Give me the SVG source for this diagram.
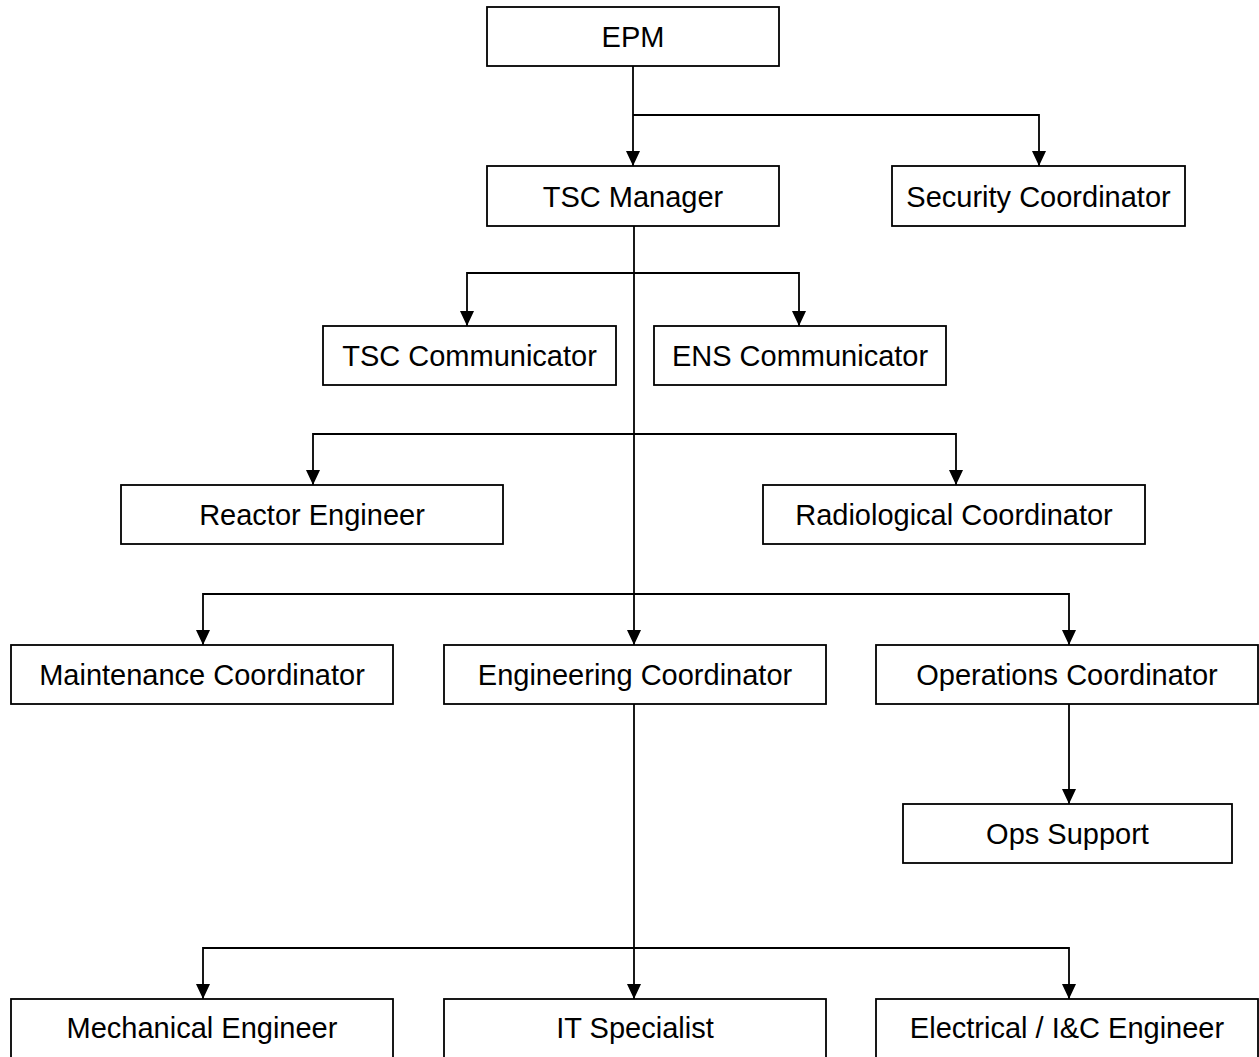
<svg xmlns="http://www.w3.org/2000/svg" width="1259" height="1057" viewBox="0 0 1259 1057">
<style>
.box{fill:#fff;stroke:#000;stroke-width:1.8}
.lbl{font-family:"Liberation Sans",Arial,sans-serif;font-size:29px;fill:#000;text-anchor:middle}
.ar{fill:none;stroke:#000;stroke-width:1.8;marker-end:url(#ah)}
</style>
<defs>
<marker id="ah" viewBox="0 0 15 14" refX="15" refY="7" markerWidth="15" markerHeight="14" markerUnits="userSpaceOnUse" orient="auto">
<path d="M0,0 L15,7 L0,14 z" fill="#000"/>
</marker>
</defs>
<rect width="1259" height="1057" fill="#fff"/>
<g id="connectors">
<path class="ar" d="M633,66 V166"/>
<path class="ar" d="M633,115 H1039 V166"/>
<path class="ar" d="M634,226 V645"/>
<path class="ar" d="M634,273 H467 V326"/>
<path class="ar" d="M634,273 H799 V326"/>
<path class="ar" d="M634,434 H313 V485"/>
<path class="ar" d="M634,434 H956 V485"/>
<path class="ar" d="M634,594 H203 V645"/>
<path class="ar" d="M634,594 H1069 V645"/>
<path class="ar" d="M1069,704 V804"/>
<path class="ar" d="M634,704 V999"/>
<path class="ar" d="M634,948 H203 V999"/>
<path class="ar" d="M634,948 H1069 V999"/>
</g>
<g id="epm"><rect class="box" x="487" y="7" width="292" height="59"/><text class="lbl" x="633" y="47">EPM</text></g>
<g id="tsc-manager"><rect class="box" x="487" y="166" width="292" height="60"/><text class="lbl" x="633" y="206.5">TSC Manager</text></g>
<g id="security-coordinator"><rect class="box" x="892" y="166" width="293" height="60"/><text class="lbl" x="1038.5" y="206.5">Security Coordinator</text></g>
<g id="tsc-communicator"><rect class="box" x="323" y="326" width="293" height="59"/><text class="lbl" x="469.5" y="366">TSC Communicator</text></g>
<g id="ens-communicator"><rect class="box" x="654" y="326" width="292" height="59"/><text class="lbl" x="800" y="366">ENS Communicator</text></g>
<g id="reactor-engineer"><rect class="box" x="121" y="485" width="382" height="59"/><text class="lbl" x="312" y="525">Reactor Engineer</text></g>
<g id="radiological-coordinator"><rect class="box" x="763" y="485" width="382" height="59"/><text class="lbl" x="954" y="525">Radiological Coordinator</text></g>
<g id="maintenance-coordinator"><rect class="box" x="11" y="645" width="382" height="59"/><text class="lbl" x="202" y="685">Maintenance Coordinator</text></g>
<g id="engineering-coordinator"><rect class="box" x="444" y="645" width="382" height="59"/><text class="lbl" x="635" y="685">Engineering Coordinator</text></g>
<g id="operations-coordinator"><rect class="box" x="876" y="645" width="382" height="59"/><text class="lbl" x="1067" y="685">Operations Coordinator</text></g>
<g id="ops-support"><rect class="box" x="903" y="804" width="329" height="59"/><text class="lbl" x="1067.5" y="844">Ops Support</text></g>
<g id="mechanical-engineer"><rect class="box" x="11" y="999" width="382" height="59"/><text class="lbl" x="202" y="1038">Mechanical Engineer</text></g>
<g id="it-specialist"><rect class="box" x="444" y="999" width="382" height="59"/><text class="lbl" x="635" y="1038">IT Specialist</text></g>
<g id="electrical-engineer"><rect class="box" x="876" y="999" width="382" height="59"/><text class="lbl" x="1067" y="1038">Electrical / I&amp;C Engineer</text></g>
</svg>
